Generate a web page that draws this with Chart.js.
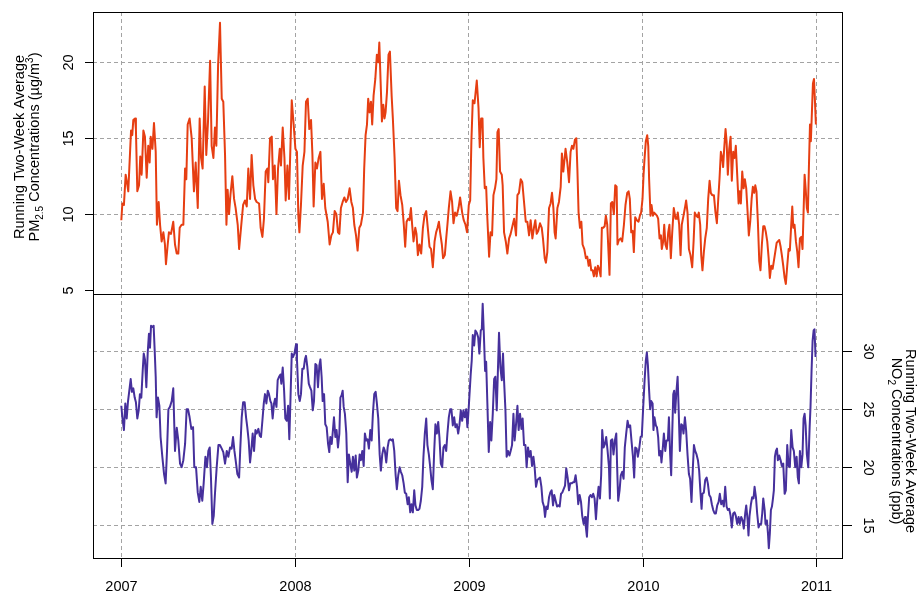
<!DOCTYPE html>
<html>
<head>
<meta charset="utf-8">
<script src="https://cdn.jsdelivr.net/npm/chart.js@4.4.0/dist/chart.umd.min.js"></script>
<style>
html,body{margin:0;padding:0;background:#fff;}
#wrap{position:relative;width:919px;height:594px;}
#top{position:absolute;left:0;top:0;width:919px;height:296px;}
#bottom{position:absolute;left:0;top:290px;width:919px;height:304px;}
</style>
</head>
<body>
<div id="wrap">
<canvas id="top" width="919" height="296"></canvas>
<canvas id="bottom" width="919" height="304"></canvas>
</div>
<script>
// tick values
const yearTicks = [2007, 2008, 2009, 2010, 2011];
const pmTicks = [5, 10, 15, 20];
const no2Ticks = [15, 20, 25, 30];

// running two-week average PM2.5 (ug/m3), time in decimal years
const pmTimes = [
2007.000,2007.006,2007.015,2007.025,2007.035,2007.040,2007.046,2007.056,2007.063,2007.069,
2007.079,2007.084,2007.092,2007.102,2007.109,2007.117,2007.127,2007.136,2007.146,2007.155,
2007.163,2007.169,2007.179,2007.188,2007.198,2007.205,2007.215,2007.223,2007.232,2007.242,
2007.251,2007.257,2007.267,2007.274,2007.286,2007.299,2007.309,2007.319,2007.328,2007.336,
2007.347,2007.357,2007.367,2007.374,2007.382,2007.393,2007.405,2007.418,2007.428,2007.440,
2007.451,2007.459,2007.468,2007.480,2007.489,2007.499,2007.511,2007.520,2007.530,2007.539,
2007.547,2007.557,2007.568,2007.578,2007.587,2007.597,2007.605,2007.612,2007.620,2007.628,
2007.639,2007.649,2007.658,2007.670,2007.678,2007.689,2007.701,2007.712,2007.722,2007.731,
2007.741,2007.750,2007.760,2007.770,2007.779,2007.793,2007.802,2007.812,2007.821,2007.831,
2007.841,2007.846,2007.856,2007.866,2007.873,2007.883,2007.893,2007.902,2007.912,2007.919,
2007.929,2007.939,2007.946,2007.956,2007.965,2007.981,
2007.992,2008.002,2008.011,2008.019,2008.025,2008.034,2008.044,2008.054,2008.063,2008.073,
2008.082,2008.092,2008.100,2008.107,2008.117,2008.126,2008.136,2008.146,2008.155,2008.165,
2008.174,2008.188,2008.199,2008.209,2008.218,2008.228,2008.238,2008.247,2008.255,2008.264,
2008.274,2008.284,2008.293,2008.303,2008.314,2008.324,2008.333,2008.341,2008.351,2008.360,
2008.370,2008.379,2008.391,2008.398,2008.406,2008.414,2008.421,2008.429,2008.437,2008.444,
2008.452,2008.462,2008.471,2008.479,2008.485,2008.492,2008.500,2008.508,2008.515,2008.521,
2008.529,2008.538,2008.546,2008.556,2008.563,2008.573,2008.582,2008.590,2008.598,2008.607,
2008.617,2008.626,2008.634,2008.642,2008.651,2008.659,2008.667,2008.674,2008.682,2008.692,
2008.699,2008.707,2008.716,2008.726,2008.736,2008.745,2008.755,2008.764,2008.774,2008.783,
2008.793,2008.803,2008.812,2008.820,2008.828,2008.835,2008.845,2008.852,2008.862,2008.870,
2008.877,2008.885,2008.895,2008.904,2008.912,2008.921,2008.931,2008.941,2008.950,2008.962,
2008.971,2008.981,2008.990,
2009.000,2009.008,2009.015,2009.023,2009.033,2009.046,2009.056,2009.063,2009.071,2009.079,
2009.084,2009.092,2009.100,2009.107,2009.117,2009.125,2009.134,2009.142,2009.151,2009.159,
2009.165,2009.172,2009.180,2009.190,2009.195,2009.203,2009.213,2009.222,2009.232,2009.241,
2009.253,2009.261,2009.272,2009.280,2009.289,2009.299,2009.308,2009.318,2009.328,2009.337,
2009.347,2009.356,2009.366,2009.375,2009.383,2009.391,2009.400,2009.410,2009.420,2009.427,
2009.437,2009.444,2009.452,2009.462,2009.471,2009.479,2009.487,2009.494,2009.500,2009.510,
2009.519,2009.529,2009.536,2009.544,2009.552,2009.557,2009.567,2009.577,2009.586,2009.594,
2009.602,2009.611,2009.619,2009.625,2009.632,2009.640,2009.648,2009.655,2009.665,2009.674,
2009.682,2009.690,2009.697,2009.705,2009.713,2009.720,2009.728,2009.736,2009.743,2009.751,
2009.759,2009.766,2009.774,2009.782,2009.789,2009.797,2009.805,2009.810,2009.818,2009.826,
2009.835,2009.843,2009.851,2009.856,2009.864,2009.874,2009.883,2009.893,2009.902,2009.912,
2009.920,2009.927,2009.935,2009.943,2009.950,2009.958,2009.967,2009.977,2009.985,2009.992,
2010.000,2010.006,2010.012,2010.019,2010.027,2010.033,2010.038,2010.046,2010.052,2010.060,
2010.067,2010.075,2010.083,2010.090,2010.098,2010.106,2010.111,2010.119,2010.125,2010.132,
2010.140,2010.148,2010.155,2010.163,2010.171,2010.180,2010.190,2010.198,2010.203,2010.211,
2010.219,2010.226,2010.236,2010.244,2010.251,2010.259,2010.267,2010.276,2010.286,2010.294,
2010.301,2010.309,2010.317,2010.324,2010.332,2010.338,2010.345,2010.353,2010.361,2010.370,
2010.378,2010.386,2010.393,2010.401,2010.411,2010.420,2010.428,2010.436,2010.443,2010.451,
2010.459,2010.464,2010.470,2010.478,2010.484,2010.491,2010.499,2010.507,2010.514,2010.522,
2010.530,2010.537,2010.545,2010.553,2010.560,2010.566,2010.574,2010.582,2010.589,2010.597,
2010.605,2010.612,2010.620,2010.628,2010.635,2010.643,2010.649,2010.656,2010.664,2010.672,
2010.679,2010.687,2010.695,2010.702,2010.710,2010.718,2010.726,2010.733,2010.741,2010.749,
2010.756,2010.764,2010.772,2010.779,2010.787,2010.795,2010.802,2010.810,2010.818,2010.825,
2010.833,2010.841,2010.848,2010.856,2010.862,2010.868,2010.875,2010.883,2010.891,2010.898,
2010.906,2010.914,2010.921,2010.927,2010.933,2010.939,2010.946,2010.952,2010.958,2010.964,
2010.969,2010.975,2010.981,2010.987,2010.992,2010.998
];
const pmValues = [
9.6,10.7,10.6,12.6,11.9,11.5,13.0,15.5,15.2,16.2,
16.3,15.6,11.5,11.9,13.8,12.6,15.5,15.1,12.4,14.5,
13.4,15.1,14.3,16.0,14.1,9.3,10.8,9.3,8.2,8.8,
8.0,6.7,8.0,8.8,8.7,9.5,8.0,7.4,7.4,9.1,
9.3,9.3,13.0,12.3,15.9,16.3,15.0,11.5,13.4,10.4,
16.3,13.7,13.0,18.4,13.9,16.1,20.1,14.5,13.7,15.7,
14.5,19.8,22.6,17.6,17.4,13.9,9.3,11.6,10.0,11.25,
12.5,11.0,10.4,9.3,7.7,9.1,10.6,10.9,10.5,13.0,
11.0,13.9,11.9,11.0,10.8,10.7,9.1,8.5,9.7,12.8,
13.0,12.1,15.0,15.1,12.3,13.2,10.0,13.0,14.3,13.2,
15.7,13.7,10.9,13.2,11.0,17.5,
15.9,14.3,14.1,9.9,8.8,10.6,13.2,14.1,17.4,17.6,
15.6,16.2,13.9,10.5,13.4,13.0,13.7,14.1,11.0,12.0,
10.4,9.5,8.0,8.6,8.8,10.2,10.0,8.8,8.7,10.4,
10.8,11.1,10.8,11.0,11.7,10.8,10.4,9.3,8.6,7.6,
9.1,9.3,10.1,13.0,15.2,15.9,17.6,16.7,17.4,15.9,
17.8,18.9,20.5,20.0,21.3,18.9,16.1,17.2,16.3,16.7,
18.0,20.5,20.7,17.8,16.3,13.7,10.4,10.2,12.2,11.25,
10.6,9.3,7.85,9.5,9.7,9.6,10.4,9.3,8.2,9.1,
8.7,7.3,8.0,7.4,9.1,9.9,10.2,9.1,7.85,7.7,
6.5,8.2,8.8,9.1,9.5,8.8,8.0,7.1,7.3,8.4,
9.3,10.4,11.5,10.8,9.4,10.1,9.9,10.4,11.1,10.1,
9.6,9.3,8.8,
10.6,10.9,14.8,17.5,17.3,18.8,17.0,14.4,16.3,16.3,
13.7,11.7,11.8,9.7,7.2,8.8,8.6,11.25,11.7,12.3,
15.4,15.6,12.8,12.6,11.9,8.8,8.2,7.4,8.4,8.7,
9.3,9.7,8.6,11.25,11.4,12.3,12.1,10.8,9.5,9.5,
8.6,9.6,8.4,9.1,9.6,8.7,8.9,9.4,9.1,8.4,
7.1,6.8,7.5,10.4,10.7,11.4,10.4,8.8,8.4,10.4,
10.8,11.8,14.0,12.8,13.7,14.3,13.4,12.1,14.1,14.5,
14.3,14.9,15.0,13.0,10.1,9.1,9.5,8.0,7.7,7.1,
7.2,6.6,7.0,6.3,6.3,5.9,6.5,5.9,6.6,6.4,
5.9,9.1,9.1,9.2,9.9,9.3,7.3,6.0,10.7,10.8,
10.0,11.9,11.8,8.0,8.3,8.4,8.2,9.3,10.6,11.4,
11.5,11.0,8.8,8.9,7.5,9.8,9.6,9.5,9.9,10.1,
11.0,12.6,13.7,14.8,15.2,14.5,12.3,9.9,10.6,9.9,
10.1,10.0,9.9,9.7,8.4,8.6,7.7,8.2,9.3,8.0,
7.7,8.8,9.3,7.1,8.8,10.4,9.7,9.7,10.1,9.3,
7.3,9.3,9.9,10.4,10.9,10.1,7.7,7.3,6.5,8.2,
10.1,9.9,9.8,10.1,9.3,7.3,6.3,7.5,8.4,9.1,
11.0,12.2,11.4,11.25,11.25,10.1,9.4,11.0,12.3,14.1,
13.7,13.1,14.3,15.6,14.8,12.6,14.3,15.1,12.2,14.1,
13.7,14.5,12.6,10.7,11.5,10.7,12.8,11.7,12.3,11.7,
10.1,8.6,9.5,11.0,11.8,11.4,11.9,11.5,9.5,6.9,
6.3,8.0,9.2,9.2,8.8,8.2,7.1,5.8,6.6,6.4,
6.9,7.5,8.1,8.2,8.3,7.85,7.3,6.6,5.8,5.4,
6.6,7.7,7.6,9.3,10.5,9.1,9.3,8.2,7.5,6.5,
8.4,8.5,7.7,10.1,12.6,11.7,10.4,10.1,13.2,15.9,
14.8,16.7,18.6,18.9,17.6,15.9
];

// running two-week average NO2 (ppb), time in decimal years
const no2Times = [
2007.000,2007.006,2007.015,2007.023,2007.031,2007.038,2007.046,2007.054,2007.061,2007.069,
2007.077,2007.084,2007.092,2007.100,2007.107,2007.115,2007.123,2007.129,2007.136,2007.144,
2007.152,2007.159,2007.165,2007.171,2007.179,2007.186,2007.192,2007.198,2007.203,2007.211,
2007.219,2007.226,2007.236,2007.246,2007.255,2007.263,2007.271,2007.280,2007.290,2007.299,
2007.309,2007.319,2007.328,2007.338,2007.347,2007.357,2007.367,2007.376,2007.384,2007.393,
2007.403,2007.413,2007.420,2007.430,2007.440,2007.449,2007.457,2007.466,2007.474,2007.484,
2007.493,2007.501,2007.509,2007.516,2007.524,2007.532,2007.539,2007.549,2007.559,2007.568,
2007.578,2007.587,2007.597,2007.607,2007.616,2007.626,2007.635,2007.643,2007.651,2007.658,
2007.668,2007.678,2007.685,2007.693,2007.701,2007.710,2007.718,2007.725,2007.733,2007.741,
2007.748,2007.756,2007.764,2007.772,2007.779,2007.789,2007.797,2007.804,2007.812,2007.820,
2007.827,2007.835,2007.843,2007.850,2007.858,2007.864,2007.871,2007.879,2007.885,2007.893,
2007.900,2007.908,2007.916,2007.921,2007.929,2007.937,2007.944,2007.952,2007.960,2007.967,
2007.973,2007.981,2007.988,2007.996,
2008.006,2008.011,2008.019,2008.027,2008.034,2008.042,2008.050,2008.057,2008.063,2008.071,
2008.079,2008.086,2008.094,2008.102,2008.109,2008.117,2008.124,2008.132,2008.140,2008.146,
2008.153,2008.159,2008.167,2008.174,2008.182,2008.190,2008.197,2008.203,2008.211,2008.218,
2008.224,2008.232,2008.239,2008.247,2008.255,2008.261,2008.268,2008.274,2008.280,2008.287,
2008.295,2008.303,2008.310,2008.318,2008.326,2008.333,2008.341,2008.349,2008.356,2008.364,
2008.372,2008.379,2008.387,2008.395,2008.402,2008.410,2008.418,2008.425,2008.433,2008.441,
2008.448,2008.456,2008.464,2008.471,2008.479,2008.487,2008.494,2008.502,2008.510,2008.517,
2008.525,2008.533,2008.540,2008.548,2008.556,2008.563,2008.571,2008.579,2008.586,2008.594,
2008.602,2008.609,2008.617,2008.625,2008.632,2008.640,2008.648,2008.655,2008.663,2008.670,
2008.678,2008.686,2008.693,2008.701,2008.709,2008.716,2008.724,2008.732,2008.739,2008.747,
2008.755,2008.762,2008.770,2008.778,2008.785,2008.793,2008.801,2008.808,2008.816,2008.824,
2008.831,2008.839,2008.847,2008.854,2008.862,2008.870,2008.877,2008.885,2008.893,2008.900,
2008.908,2008.916,2008.923,2008.931,2008.939,2008.946,2008.954,2008.962,2008.969,2008.977,
2008.985,2008.992,2009.000,
2009.011,2009.017,2009.023,2009.031,2009.038,2009.046,2009.054,2009.061,2009.069,2009.075,
2009.080,2009.086,2009.094,2009.100,2009.107,2009.115,2009.123,2009.130,2009.138,2009.146,
2009.153,2009.161,2009.167,2009.174,2009.182,2009.190,2009.197,2009.203,2009.211,2009.218,
2009.226,2009.234,2009.241,2009.249,2009.257,2009.264,2009.272,2009.280,2009.287,2009.295,
2009.303,2009.310,2009.318,2009.326,2009.333,2009.341,2009.349,2009.356,2009.364,2009.372,
2009.379,2009.387,2009.395,2009.402,2009.410,2009.418,2009.425,2009.433,2009.439,2009.446,
2009.454,2009.462,2009.469,2009.477,2009.485,2009.492,2009.500,2009.508,2009.515,2009.523,
2009.531,2009.538,2009.546,2009.554,2009.561,2009.569,2009.577,2009.584,2009.592,2009.600,
2009.607,2009.615,2009.623,2009.630,2009.638,2009.646,2009.653,2009.661,2009.669,2009.674,
2009.680,2009.686,2009.693,2009.701,2009.709,2009.716,2009.724,2009.732,2009.739,2009.747,
2009.755,2009.762,2009.768,2009.776,2009.784,2009.791,2009.799,2009.807,2009.812,2009.818,
2009.826,2009.833,2009.841,2009.849,2009.854,2009.860,2009.868,2009.875,2009.883,2009.891,
2009.898,2009.906,2009.914,2009.921,2009.929,2009.937,2009.945,2009.952,2009.958,2009.966,
2009.973,2009.981,2009.989,2009.996,
2010.004,2010.012,2010.019,2010.025,2010.031,2010.038,2010.044,2010.050,2010.058,2010.063,
2010.069,2010.077,2010.083,2010.090,2010.096,2010.104,2010.109,2010.117,2010.123,2010.131,
2010.138,2010.146,2010.152,2010.159,2010.165,2010.171,2010.177,2010.182,2010.188,2010.194,
2010.202,2010.207,2010.215,2010.223,2010.230,2010.236,2010.244,2010.251,2010.259,2010.267,
2010.274,2010.282,2010.290,2010.296,2010.303,2010.311,2010.319,2010.326,2010.334,2010.340,
2010.345,2010.353,2010.361,2010.369,2010.376,2010.384,2010.392,2010.399,2010.407,2010.415,
2010.422,2010.430,2010.438,2010.445,2010.453,2010.461,2010.468,2010.476,2010.484,2010.491,
2010.499,2010.507,2010.514,2010.522,2010.530,2010.537,2010.545,2010.553,2010.560,2010.568,
2010.576,2010.583,2010.591,2010.597,2010.605,2010.610,2010.616,2010.624,2010.631,2010.639,
2010.645,2010.653,2010.660,2010.668,2010.676,2010.683,2010.689,2010.695,2010.703,2010.708,
2010.716,2010.722,2010.727,2010.733,2010.739,2010.745,2010.751,2010.756,2010.762,2010.768,
2010.774,2010.779,2010.787,2010.795,2010.802,2010.810,2010.818,2010.825,2010.833,2010.841,
2010.848,2010.856,2010.864,2010.871,2010.879,2010.887,2010.894,2010.900,2010.906,2010.914,
2010.921,2010.927,2010.933,2010.939,2010.946,2010.954,2010.962,2010.967,2010.973,2010.979,
2010.985,2010.990,2010.996
];
const no2Values = [
25.3,24.3,23.2,25.5,24.2,25.6,26.6,27.6,26.5,26.8,
26.0,25.6,24.2,24.9,26.3,26.0,28.3,29.8,29.3,26.9,
29.9,31.5,30.3,32.2,32.1,32.2,30.1,27.8,24.3,26.0,
25.3,22.6,20.9,19.4,18.6,21.4,25.0,25.2,25.7,26.8,
21.4,23.4,22.3,20.3,20.0,20.6,22.0,25.0,25.0,24.3,
23.3,23.45,20.0,20.0,17.8,17.0,18.3,17.1,18.6,20.9,
20.0,21.4,21.7,19.1,15.1,15.8,17.7,20.0,21.9,21.9,
21.6,21.3,20.3,21.4,20.9,21.7,21.6,22.6,21.4,20.6,
19.4,19.1,21.7,24.3,25.6,25.6,24.3,23.45,22.3,20.4,
21.4,22.9,21.4,23.2,22.9,23.3,22.7,22.6,24.0,25.5,
26.3,25.5,26.6,26.3,25.7,25.5,24.2,25.5,25.9,25.2,
27.5,27.8,28.0,27.2,28.6,26.6,24.2,24.0,25.3,22.4,
25.5,29.8,29.5,29.8,
30.6,29.3,26.3,25.7,26.3,28.5,28.5,29.3,29.6,28.6,
27.2,26.9,26.6,24.9,25.7,28.9,28.8,26.9,28.8,29.3,
27.8,25.7,26.3,23.7,23.45,22.0,21.3,22.6,22.0,23.2,
24.3,22.6,23.2,21.7,22.9,26.0,26.2,26.6,25.2,24.6,
22.9,18.7,21.1,20.3,19.6,20.9,19.7,21.0,19.1,19.7,
21.1,20.6,21.4,20.1,22.9,22.3,22.4,21.6,23.2,22.3,
24.6,26.3,26.5,25.5,24.2,21.1,19.7,21.1,21.7,21.4,
20.4,21.7,22.3,22.4,22.3,22.4,21.4,19.3,18.1,19.3,
20.0,19.6,19.3,18.6,17.8,17.7,16.8,17.4,16.1,16.8,
16.1,18.0,16.7,16.3,16.3,16.4,17.1,18.3,20.9,22.9,
24.2,21.9,21.1,20.0,18.9,18.1,21.4,23.7,22.9,23.9,
22.6,20.3,20.0,21.7,21.9,21.4,22.9,24.3,25.0,25.0,
23.6,24.3,23.45,23.7,22.9,23.6,24.9,24.0,24.9,24.3,
25.0,23.45,25.2,
28.0,29.2,31.4,30.5,31.8,31.6,31.2,29.8,31.8,31.9,
34.1,31.8,28.3,29.1,25.5,21.3,23.9,22.3,24.6,27.6,
27.8,24.9,28.0,31.6,28.6,27.5,29.8,27.5,24.9,20.9,
21.4,21.0,21.4,21.9,24.6,22.3,23.7,25.3,23.2,24.6,
23.3,24.2,21.9,21.9,20.0,21.7,20.9,21.4,20.1,20.9,
20.0,18.3,18.9,19.0,19.1,18.3,17.0,16.6,15.7,16.6,
16.4,17.4,17.8,18.0,16.7,17.6,17.1,16.6,16.7,16.6,
17.7,17.8,18.1,18.4,19.9,19.1,18.0,18.6,18.6,18.7,
18.7,19.3,18.3,16.8,17.6,17.0,15.8,15.1,15.7,14.8,
14.0,15.7,17.4,17.6,17.4,17.7,17.3,15.5,17.1,18.3,
17.3,19.3,23.2,21.7,22.0,22.6,21.4,20.0,17.3,22.3,
22.4,21.1,22.3,22.9,20.0,17.1,18.0,19.3,19.6,19.0,
21.7,22.9,24.0,23.45,23.6,22.2,20.9,19.1,21.7,21.6,
20.9,21.6,22.6,22.7,
25.2,27.5,29.2,29.9,28.8,26.6,25.0,25.7,25.5,23.2,
24.3,23.6,23.45,22.6,21.0,21.4,20.4,21.7,22.9,21.4,
22.3,22.3,24.3,21.1,19.3,22.9,26.3,26.6,24.7,26.3,
27.8,25.5,21.4,23.7,23.6,22.9,24.3,23.2,21.1,19.4,
19.0,17.0,20.0,21.9,21.4,21.1,20.6,19.7,17.7,16.4,
17.7,17.8,18.9,19.1,18.6,17.6,17.4,16.8,16.3,16.0,
16.0,16.7,17.0,17.7,16.8,17.1,16.6,18.3,16.6,16.3,
16.4,15.8,14.8,16.0,16.1,15.8,15.1,15.7,15.1,15.7,
15.4,14.7,16.0,16.7,15.4,14.1,15.8,16.8,17.4,17.3,
18.3,17.4,16.0,14.8,15.1,15.1,16.0,17.3,16.3,15.1,
15.4,14.3,13.0,14.3,16.3,16.6,17.3,18.0,20.9,21.4,
21.6,20.6,21.0,20.6,20.1,20.3,17.7,18.0,21.9,20.1,
20.0,23.2,21.7,21.4,20.0,20.9,19.1,18.6,21.4,20.0,
21.1,24.2,24.6,23.6,21.1,20.0,23.45,25.2,28.3,30.9,
31.8,31.9,29.5
];

const PM_COLOR = '#E63E12';
const NO2_COLOR = '#46309C';
const GRID = '#a3a3a3';
const FONT = '"Liberation Sans", Arial, Helvetica, sans-serif';
const X_MIN = 2006.837, X_MAX = 2011.154;

const pmPoints = pmTimes.map((t, i) => ({x: t, y: pmValues[i]}));
const no2Points = no2Times.map((t, i) => ({x: t, y: no2Values[i]}));

// rotated text made of several runs (for sub/superscripts)
function drawRuns(ctx, runs, cx, cy, angle) {
  ctx.save();
  ctx.translate(cx, cy);
  ctx.rotate(angle);
  ctx.textAlign = 'left';
  ctx.textBaseline = 'alphabetic';
  let total = 0;
  runs.forEach(r => {
    ctx.font = r.size + 'px ' + FONT;
    r.w = ctx.measureText(r.t).width;
    total += r.w;
  });
  let x = -total / 2;
  runs.forEach(r => {
    ctx.font = r.size + 'px ' + FONT;
    ctx.fillText(r.t, x, r.dy);
    x += r.w;
  });
  ctx.restore();
}

function label(ctx, txt, cx, cy, angle) {
  drawRuns(ctx, [{t: txt, size: 14.5, dy: 5.2}], cx, cy, angle);
}

const topFrame = {
  id: 'topFrame',
  afterDraw(chart) {
    const ctx = chart.ctx, a = chart.chartArea, ys = chart.scales.y;
    ctx.save();
    ctx.strokeStyle = '#000';
    ctx.lineWidth = 1;
    ctx.strokeRect(Math.round(a.left) + 0.5, Math.round(a.top) + 0.5, Math.round(a.right - a.left) - 1, Math.round(a.bottom - a.top));
    ctx.fillStyle = '#000';
    pmTicks.forEach(v => {
      const y = Math.round(ys.getPixelForValue(v)) + 0.5;
      ctx.beginPath();
      ctx.moveTo(a.left - 8, y);
      ctx.lineTo(a.left, y);
      ctx.stroke();
      label(ctx, String(v), a.left - 25, y, -Math.PI / 2);
    });
    const cy = 147;
    drawRuns(ctx, [{t: 'Running Two-Week Average', size: 14.5, dy: 0}], 24, cy, -Math.PI / 2);
    drawRuns(ctx, [
      {t: 'PM', size: 14.5, dy: 0},
      {t: '2.5', size: 10, dy: 4},
      {t: ' Concentrations (\u00b5g/m', size: 14.5, dy: 0},
      {t: '3', size: 10, dy: -6},
      {t: ')', size: 14.5, dy: 0}
    ], 38.5, cy, -Math.PI / 2);
    ctx.restore();
  }
};

const bottomFrame = {
  id: 'bottomFrame',
  afterDraw(chart) {
    const ctx = chart.ctx, a = chart.chartArea, ys = chart.scales.y, xs = chart.scales.x;
    ctx.save();
    ctx.strokeStyle = '#000';
    ctx.lineWidth = 1;
    ctx.strokeRect(Math.round(a.left) + 0.5, Math.round(a.top) + 0.5, Math.round(a.right - a.left) - 1, Math.round(a.bottom - a.top));
    ctx.fillStyle = '#000';
    no2Ticks.forEach(v => {
      const y = Math.round(ys.getPixelForValue(v)) + 0.5;
      ctx.beginPath();
      ctx.moveTo(a.right, y);
      ctx.lineTo(a.right + 9, y);
      ctx.stroke();
      label(ctx, String(v), a.right + 26, y, Math.PI / 2);
    });
    yearTicks.forEach(v => {
      const x = Math.round(xs.getPixelForValue(v)) + 0.5;
      ctx.beginPath();
      ctx.moveTo(x, a.bottom);
      ctx.lineTo(x, a.bottom + 9);
      ctx.stroke();
      label(ctx, String(v), x, a.bottom + 27.5, 0);
    });
    const cy = 151;
    drawRuns(ctx, [{t: 'Running Two-Week Average', size: 14.5, dy: 0}], 906, cy, Math.PI / 2);
    drawRuns(ctx, [
      {t: 'NO', size: 14.5, dy: 0},
      {t: '2', size: 10, dy: 4},
      {t: ' Concentrations (ppb)', size: 14.5, dy: 0}
    ], 891.5, cy, Math.PI / 2);
    ctx.restore();
  }
};

function gridOpts(hide) {
  return {
    color: c => (c.tick && hide && hide(c.tick.value)) ? 'rgba(0,0,0,0)' : GRID,
    lineWidth: 1,
    drawTicks: false
  };
}

const mychart1 = new Chart(document.getElementById('top'), {
  type: 'line',
  data: {
    datasets: [{
      data: pmPoints,
      borderColor: PM_COLOR,
      borderWidth: 2,
      borderJoinStyle: 'round',
      pointRadius: 0,
      tension: 0,
      fill: false
    }]
  },
  options: {
    responsive: false,
    animation: false,
    layout: {padding: {left: 0, right: 76, top: 12, bottom: 2}},
    plugins: {legend: {display: false}, tooltip: {enabled: false}},
    scales: {
      x: {
        type: 'linear', min: X_MIN, max: X_MAX,
        afterBuildTicks: s => { s.ticks = yearTicks.map(v => ({value: v})); },
        afterFit: s => { s.height = 0; },
        ticks: {display: false},
        grid: gridOpts(),
        border: {display: false, dash: [4, 3]}
      },
      y: {
        type: 'linear', position: 'left', min: 4.74, max: 23.31,
        afterBuildTicks: s => { s.ticks = pmTicks.map(v => ({value: v})); },
        afterFit: s => { s.width = 93; },
        ticks: {display: false},
        grid: gridOpts(v => v === 5),
        border: {display: false, dash: [4, 3]}
      }
    }
  },
  plugins: [topFrame]
});

const mychart2 = new Chart(document.getElementById('bottom'), {
  type: 'line',
  data: {
    datasets: [{
      data: no2Points,
      borderColor: NO2_COLOR,
      borderWidth: 2,
      borderJoinStyle: 'round',
      pointRadius: 0,
      tension: 0,
      fill: false
    }]
  },
  options: {
    responsive: false,
    animation: false,
    layout: {padding: {left: 93, right: 0, top: 4, bottom: 0}},
    plugins: {legend: {display: false}, tooltip: {enabled: false}},
    scales: {
      x: {
        type: 'linear', min: X_MIN, max: X_MAX,
        afterBuildTicks: s => { s.ticks = yearTicks.map(v => ({value: v})); },
        afterFit: s => { s.height = 36; },
        ticks: {display: false},
        grid: gridOpts(),
        border: {display: false, dash: [4, 3]}
      },
      y: {
        type: 'linear', position: 'right', min: 12.16, max: 34.94,
        afterBuildTicks: s => { s.ticks = no2Ticks.map(v => ({value: v})); },
        afterFit: s => { s.width = 76; },
        ticks: {display: false},
        grid: gridOpts(),
        border: {display: false, dash: [4, 3]}
      }
    }
  },
  plugins: [bottomFrame]
});
</script>
</body>
</html>
